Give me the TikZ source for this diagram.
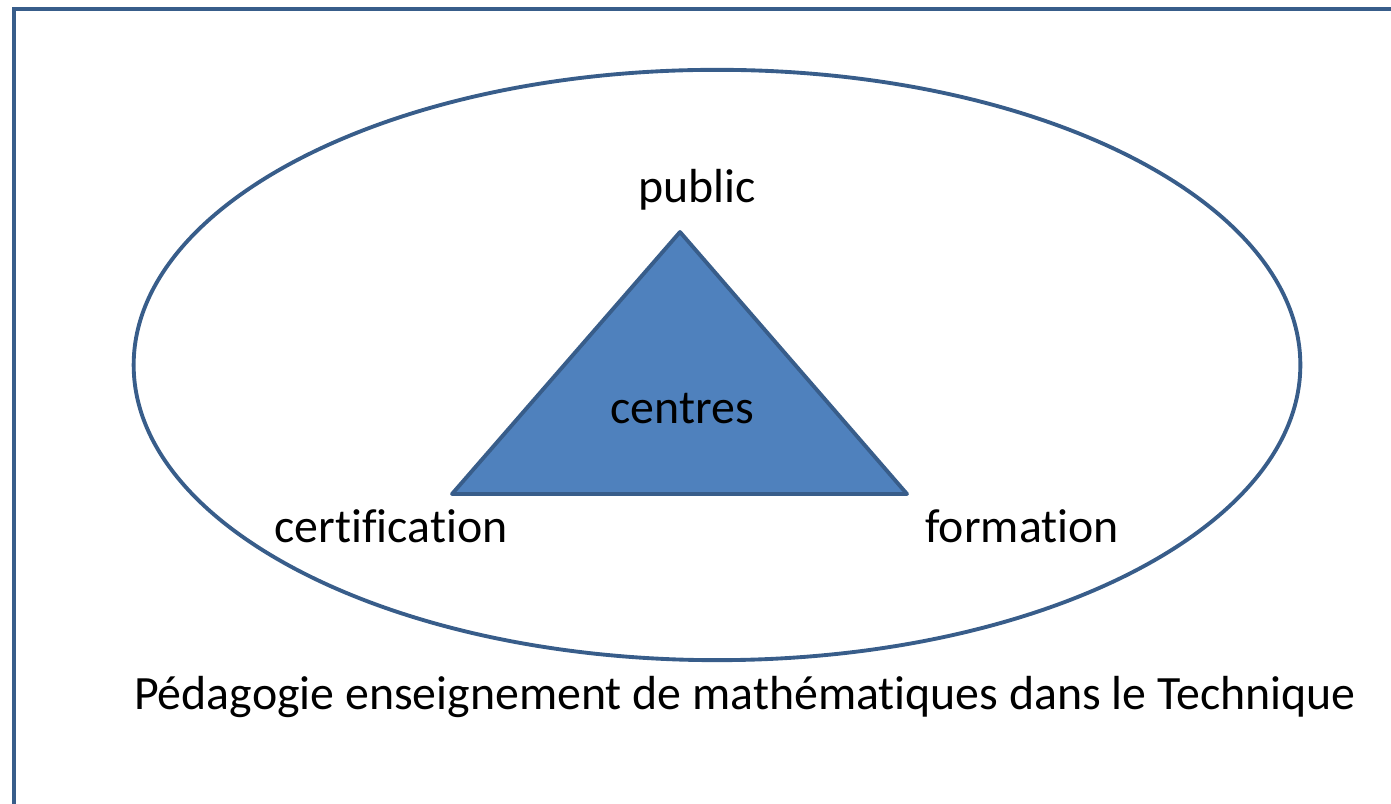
\documentclass[tikz,border=0pt]{standalone}
\usepackage{fontspec}
\setmainfont[Ligatures=CommonOff]{Carlito}
\usepackage{tikz}
\usetikzlibrary{positioning, shapes.geometric}

\definecolor{bordure}{HTML}{385D8A}
\definecolor{remplir}{HTML}{4F81BD}

\begin{document}
\begin{tikzpicture}[x=0.01cm, y=-0.01cm]
                \tikzstyle{rotulo}=[inner sep=0pt, font=\fontsize{13.6}{16}\selectfont]

                    % Cadre
                    \useasboundingbox (0,0) rectangle (1391,804);
                    \clip (0,0) rectangle (1391,804);
                    \draw[bordure, line width=1.4pt] (14,810) -- (14,9) -- (1400,9);

                    % Ellipse
                    \node[ellipse, draw=bordure, line width=1.1pt, inner sep=0pt,
                          minimum width=11.66cm, minimum height=5.9cm] (domaine) at (717,365) {};

                    % Sommets
                    \coordinate (p) at (680,232);
                    \coordinate (c) at (452,494);
                    \coordinate (f) at (907,494);
                    \draw[bordure, fill=remplir, line width=1.1pt, line join=round] (p) -- (f) -- (c) -- cycle;

                    % Textes
                    \node[rotulo] (public) at (697,190) {public};
                    \node[rotulo] (centres) at (682,409) {centres};
                    \node[rotulo] (certif) at (391,526) {certification};
                    \node[rotulo] (formation) at (1022,526) {formation};
                    \node[rotulo] (pedago) at (745,697) {Pédagogie enseignement de mathématiques dans le Technique};

            \end{tikzpicture}
\end{document}
